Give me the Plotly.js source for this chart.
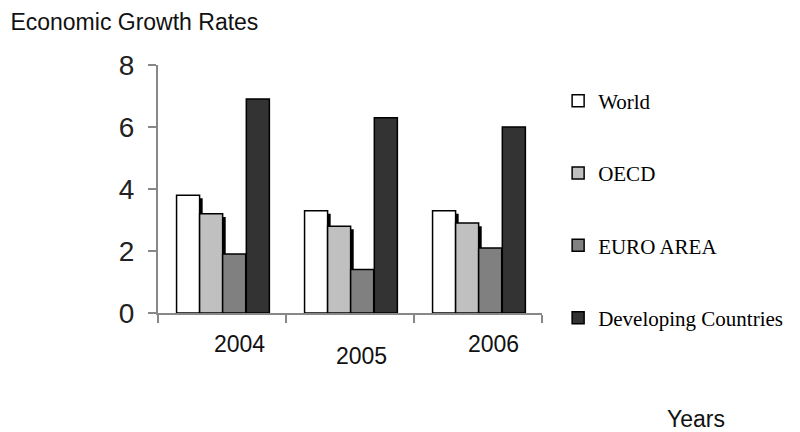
<!DOCTYPE html>
<html>
<head>
<meta charset="utf-8">
<script src="https://cdn.plot.ly/plotly-3.0.1.min.js"></script>
<style>html,body{margin:0;padding:0;background:#fff;}#chart{width:800px;height:432px;}</style>
</head>
<body>
<div id="chart"></div>
<script>
const years = ['2004', '2005', '2006'];
const seriesNames = ['World', 'OECD', 'EURO AREA', 'Developing Countries'];
const world = [3.8, 3.3, 3.3];
const oecd = [3.2, 2.8, 2.9];
const euroArea = [1.9, 1.4, 2.1];
const developing = [6.9, 6.3, 6.0];
const yTicks = [0, 2, 4, 6, 8];

const seriesValues = [world, oecd, euroArea, developing];
const colors = ['#ffffff', '#c0c0c0', '#808080', '#333333'];
const offsets = [-0.355, -0.175, 0.005, 0.19];
const barWidth = 0.18;

const traces = [];
// shadows (3D effect) for first two series
[0, 1].forEach(i => {
  traces.push({
    type: 'bar', x: years, y: seriesValues[i], base: -0.1,
    width: barWidth, offset: offsets[i] + 0.024,
    marker: {color: '#000000', line: {width: 0}},
    showlegend: false, hoverinfo: 'skip'
  });
});
seriesValues.forEach((vals, i) => {
  traces.push({
    type: 'bar', x: years, y: vals, name: seriesNames[i],
    legendgroup: 'g' + i,
    width: barWidth, offset: offsets[i],
    marker: {color: colors[i], line: {color: '#000000', width: 1.5}}
  });
});

const labelShift = [[17, -0.125], [11, -0.173], [15, -0.125]];
const annotations = years.map((yr, i) => ({
  x: i, xref: 'x', xshift: labelShift[i][0],
  y: labelShift[i][1], yref: 'paper',
  text: yr, showarrow: false, xanchor: 'center', yanchor: 'middle',
  font: {family: 'Liberation Sans, Arial, sans-serif', size: 23, color: '#111'}
}));
annotations.push({
  x: 1.401, xref: 'paper', y: -0.427, yref: 'paper',
  text: 'Years', showarrow: false, xanchor: 'center', yanchor: 'middle',
  font: {family: 'Liberation Sans, Arial, sans-serif', size: 23, color: '#111'}
});

const layout = {
  width: 800, height: 432,
  margin: {l: 158, r: 258, t: 65, b: 119},
  paper_bgcolor: '#ffffff', plot_bgcolor: '#ffffff',
  barmode: 'overlay',
  title: {
    text: 'Economic Growth Rates', xref: 'container', yref: 'container',
    x: 0.013, xanchor: 'left', y: 0.949, yanchor: 'middle',
    font: {family: 'Liberation Sans, Arial, sans-serif', size: 23, color: '#111'}
  },
  xaxis: {
    type: 'category', range: [-0.5, 2.5], autorange: false,
    showticklabels: false, showgrid: false, zeroline: false,
    showline: true, linecolor: '#888', linewidth: 2,
    ticks: 'outside', tickson: 'boundaries', ticklen: 8, tickcolor: '#888', tickwidth: 2
  },
  yaxis: {
    range: [0, 8], autorange: false, tickvals: yTicks, showgrid: false, zeroline: false,
    showline: true, linecolor: '#888', linewidth: 2,
    ticks: 'outside', ticklen: 8, tickcolor: '#888', tickwidth: 2,
    ticklabelstandoff: 8,
    tickfont: {family: 'Liberation Sans, Arial, sans-serif', size: 28, color: '#222'}
  },
  legend: {
    x: 1.042, xanchor: 'left', y: 0.937, yanchor: 'top',
    tracegroupgap: 42, valign: 'bottom', maxheight: 400,
    font: {family: 'Liberation Serif, Times New Roman, serif', size: 21, color: '#000'},
    bgcolor: 'rgba(0,0,0,0)'
  },
  annotations: annotations
};

Plotly.newPlot('chart', traces, layout, {displayModeBar: false, staticPlot: true});
</script>
</body>
</html>
